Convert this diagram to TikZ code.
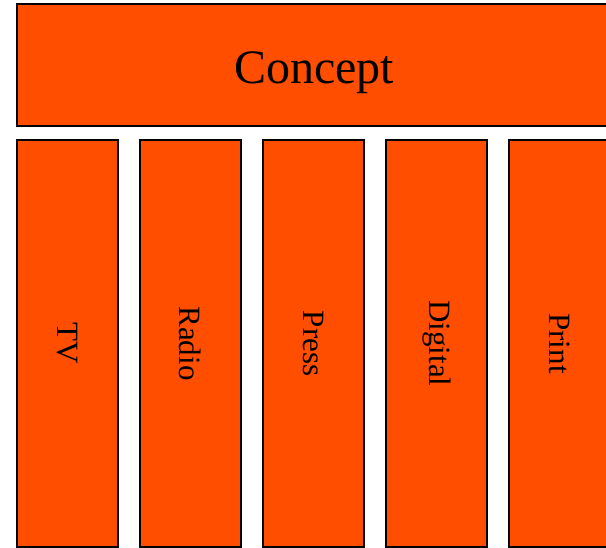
\documentclass[tikz,border=0pt]{standalone}
\usepackage{fontspec}
\setmainfont{Liberation Serif}
\definecolor{blockorange}{RGB}{255,78,0}
\begin{document}
\begin{tikzpicture}[x=1pt,y=-1pt,
  block/.style={draw=black,line width=1.3pt,fill=blockorange},
  collabel/.style={rotate=-90,font=\fontsize{31}{34}\selectfont,inner sep=0pt},
  toplabel/.style={font=\fontsize{48}{50}\selectfont,inner sep=0pt,anchor=base}]
\useasboundingbox (0,0) rectangle (606,548);
% top band
\draw[block] (17,4) rectangle (611,126);
\node[toplabel] (concept) at (314,83.5) {Concept};
% five media columns
\foreach \i/\name/\lab in {0/tv/TV,1/radio/Radio,2/press/Press,3/digital/Digital,4/print/Print}{
  \pgfmathsetmacro{\xl}{17+123*\i}
  \draw[block] (\xl,140) rectangle (\xl+101,547);
  \node[collabel] (\name) at (\xl+50.5,343.5) {\lab};
}
\end{tikzpicture}
\end{document}
